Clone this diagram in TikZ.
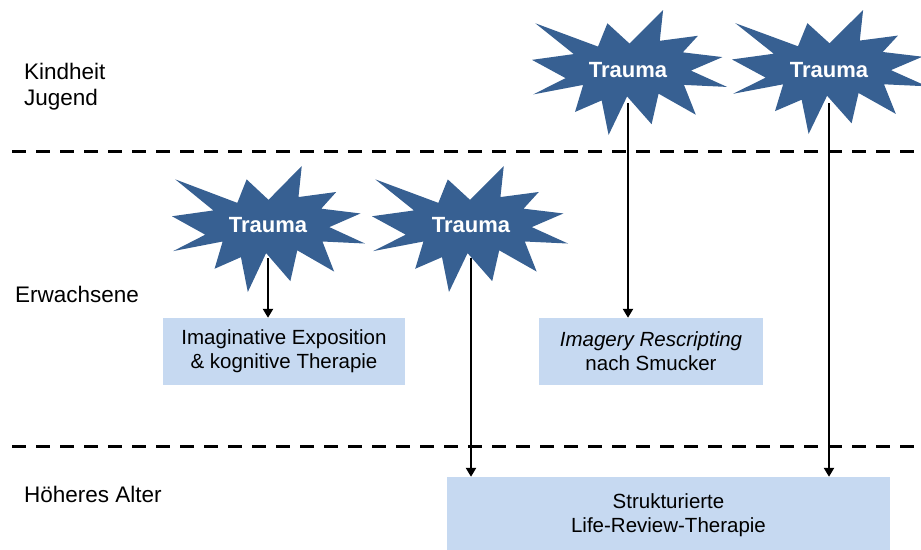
\documentclass[tikz,border=0pt]{standalone}
\usepackage{fontspec}
\setmainfont{Liberation Sans}
\usetikzlibrary{arrows.meta}
\definecolor{traumablue}{RGB}{55,96,146}
\definecolor{boxblue}{RGB}{198,217,241}

\begin{document}
\begin{tikzpicture}[x=1pt, y=-1pt,
  trauma/.style={text=white, font=\fontsize{22}{26}\selectfont\bfseries, minimum height=66pt, inner sep=0pt},
  therapy/.style={rectangle, fill=boxblue, align=center, font=\fontsize{20.5}{24}\selectfont, inner sep=0pt},
  phase/.style={align=left, font=\fontsize{22.5}{26}\selectfont, inner sep=0pt},
  sepline/.style={line width=3pt, dash pattern=on 14pt off 10pt},
  arr/.style={line width=2.9pt, -{Triangle[width=10pt,length=9pt]}}]

\useasboundingbox (0,0) rectangle (921,549);

% Separator lines
\draw [sepline] (12,151) -- (921,151);
\draw [sepline] (12,446) -- (921,446);

% Bursts
\foreach \x/\y/\w/\h [evaluate=\w as \sx using \w/100, evaluate=\h as \sy using \h/100] in {532/10/195/125, 732/10/195/124, 172/166/193/126, 372/166/196/126}
  \fill [traumablue, shift={(\x,\y)}, xscale=\sx, yscale=\sy] (50,26.85) -- (67.23,0) -- (65.53,24.65) -- (85.09,20.63) -- (77.32,33.87) -- (97.67,37.67) -- (81.51,48.5) -- (100,61.53) -- (77.95,59.92) -- (84,83.77) -- (64.91,66.93) -- (61.33,91.38) -- (48.76,69.14) -- (39.28,100) -- (35.72,72.35) -- (22.05,81.56) -- (26.24,59.92) -- (0.63,67.53) -- (17.23,54.51) -- (0,39.88) -- (21.42,35.26) -- (1.71,10.63) -- (33.85,29.26) -- (38.67,10.63) -- cycle;

% Nodes
\node (t1) [trauma] at (628,70) {Trauma};
\node (t2) [trauma] at (829,70) {Trauma};
\node (m1) [trauma] at (268,225) {Trauma};
\node (m2) [trauma] at (471,225) {Trauma};

\node (b1) [therapy, minimum width=242pt, minimum height=67pt] at (284,351.5) {Imaginative Exposition\\\& kognitive Therapie};
\node (b2) [therapy, minimum width=224pt, minimum height=67pt] at (651,351.5) {\textit{Imagery Rescripting}\\nach Smucker};
\node (b3) [therapy, minimum width=443pt, minimum height=76pt] at (668.5,515) {Strukturierte\\Life-Review-Therapie};

\node (kj) [phase, anchor=north west] at (24,63) {Kindheit\\Jugend};
\node (er) [phase, anchor=base west] at (15,302) {Erwachsene};
\node (ha) [phase, anchor=base west] at (24,502) {Höheres Alter};

% Arrows
\draw [arr] (m1.south) -- (m1.south |- b1.north);
\draw [arr] (t1.south) -- (t1.south |- b2.north);
\draw [arr] (m2.south) -- (m2.south |- b3.north);
\draw [arr] (t2.south) -- (t2.south |- b3.north);

\end{tikzpicture}
\end{document}
